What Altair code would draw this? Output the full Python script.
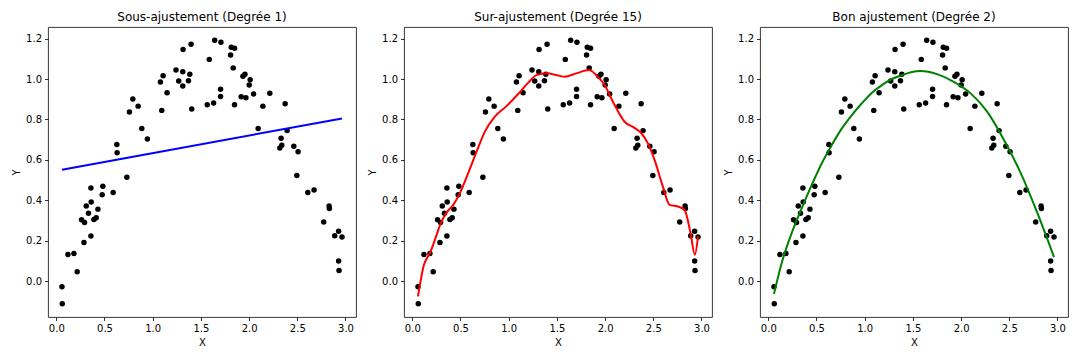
import altair as alt
import pandas as pd

# Scatter data (same in all three panels)
x_pts = [0.059, 0.062, 0.121, 0.183, 0.217, 0.262, 0.287, 0.293, 0.311, 0.334,
         0.359, 0.359, 0.362, 0.390, 0.414, 0.432, 0.476, 0.483, 0.590, 0.628,
         0.631, 0.732, 0.759, 0.794, 0.849, 0.887, 0.945, 1.080, 1.094, 1.108,
         1.149, 1.242, 1.270, 1.312, 1.312, 1.315, 1.371, 1.385, 1.398, 1.405,
         1.566, 1.587, 1.632, 1.643, 1.704, 1.704, 1.708, 1.808, 1.815, 1.835,
         1.849, 1.849, 1.918, 1.936, 1.957, 1.967, 2.001, 2.011, 2.047, 2.094,
         2.143, 2.215, 2.319, 2.332, 2.339, 2.374, 2.394, 2.464, 2.495, 2.508,
         2.609, 2.674, 2.774, 2.830, 2.833, 2.888, 2.929, 2.929, 2.933, 2.964]
y_pts = [-0.026, -0.111, 0.133, 0.138, 0.048, 0.304, 0.192, 0.291, 0.373, 0.337,
         0.461, 0.224, 0.392, 0.306, 0.314, 0.357, 0.428, 0.470, 0.439, 0.676,
         0.636, 0.515, 0.837, 0.901, 0.866, 0.756, 0.704, 0.985, 0.845, 1.016,
         0.932, 1.044, 0.990, 1.036, 0.966, 1.146, 0.991, 1.023, 1.172, 0.852,
         0.873, 1.097, 0.881, 1.192, 0.949, 0.914, 1.182, 1.119, 1.157, 1.055,
         1.152, 0.873, 0.912, 1.014, 1.023, 0.907, 0.970, 0.996, 0.926, 0.756,
         0.866, 0.930, 0.659, 0.707, 0.673, 0.878, 0.745, 0.668, 0.523, 0.640,
         0.439, 0.451, 0.293, 0.373, 0.360, 0.225, 0.248, 0.101, 0.054, 0.219]

# Degree 1 fit
d1_x = [0.059, 2.964]
d1_y = [0.552, 0.805]

# Degree 15 fit
d15_x = [0.059, 0.121, 0.183, 0.235, 0.294, 0.356, 0.425, 0.494, 0.580, 0.667,
         0.753, 0.856, 0.977, 1.098, 1.201, 1.288, 1.392, 1.500, 1.581, 1.702,
         1.833, 1.909, 1.995, 2.081, 2.202, 2.300, 2.376, 2.444, 2.513, 2.600,
         2.669, 2.755, 2.824, 2.886, 2.931, 2.964]
d15_y = [-0.074, 0.082, 0.140, 0.206, 0.285, 0.340, 0.378, 0.436, 0.535, 0.641,
         0.740, 0.814, 0.866, 0.926, 0.981, 1.019, 1.028, 1.019, 1.011, 1.028,
         1.044, 1.019, 0.970, 0.888, 0.789, 0.760, 0.732, 0.682, 0.600, 0.468,
         0.378, 0.370, 0.354, 0.239, 0.132, 0.222]

# Degree 2 fit
d2_x = [0.059, 0.139, 0.243, 0.347, 0.451, 0.555, 0.659, 0.763, 0.867, 0.971,
        1.075, 1.179, 1.283, 1.387, 1.480, 1.579, 1.751, 1.925, 2.099, 2.272,
        2.445, 2.619, 2.792, 2.964]
d2_y = [-0.062, 0.091, 0.239, 0.362, 0.477, 0.584, 0.674, 0.756, 0.822, 0.880,
        0.932, 0.970, 1.000, 1.019, 1.033, 1.039, 1.024, 0.986, 0.929, 0.838,
        0.699, 0.535, 0.337, 0.120]

titles = ["Sous-ajustement (Degrée 1)", "Sur-ajustement (Degrée 15)", "Bon ajustement (Degrée 2)"]
colors = ["#0000ff", "#ff0000", "#008000"]
fits = [(d1_x, d1_y), (d15_x, d15_y), (d2_x, d2_y)]

FONT = "DejaVu Sans"
xs = alt.Scale(domain=[-0.086, 3.109], nice=False, zero=False)
ys = alt.Scale(domain=[-0.176, 1.257], nice=False, zero=False)
xa = alt.Axis(values=[0, 0.5, 1.0, 1.5, 2.0, 2.5, 3.0], format=".1f", title="X")
ya = alt.Axis(values=[0, 0.2, 0.4, 0.6, 0.8, 1.0, 1.2], format=".1f", title="Y")

pts_df = pd.DataFrame({"X": x_pts, "Y": y_pts})


def panel(title, fx, fy, color):
    pts = alt.Chart(pts_df).mark_circle(size=30, color="black", opacity=1).encode(
        x=alt.X("X:Q", scale=xs, axis=xa),
        y=alt.Y("Y:Q", scale=ys, axis=ya),
    )
    line = alt.Chart(pd.DataFrame({"X": fx, "Y": fy})).mark_line(
        color=color, strokeWidth=2, interpolate="monotone"
    ).encode(x=alt.X("X:Q", scale=xs), y=alt.Y("Y:Q", scale=ys))
    return alt.layer(pts, line).properties(
        width=308, height=290,
        title=alt.TitleParams(title, fontSize=12, font=FONT, fontWeight="normal",
                              color="black", anchor="middle", offset=3),
    )


chart = alt.hconcat(
    *[panel(t, f[0], f[1], c) for t, f, c in zip(titles, fits, colors)],
    spacing=10,
).properties(
    padding={"left": 3, "top": 2, "right": 0, "bottom": 0}
).configure_view(
    stroke="#222222", strokeWidth=0.9
).configure_axis(
    domain=False, grid=False,
    tickColor="black", tickSize=3.5, tickWidth=0.8,
    labelColor="black", labelFont=FONT, labelFontSize=10, labelPadding=3,
    titleColor="black", titleFont=FONT, titleFontSize=10, titleFontWeight="normal",
    titlePadding=4,
)

chart.save("out.html", embed_options={"renderer": "svg", "actions": False})
